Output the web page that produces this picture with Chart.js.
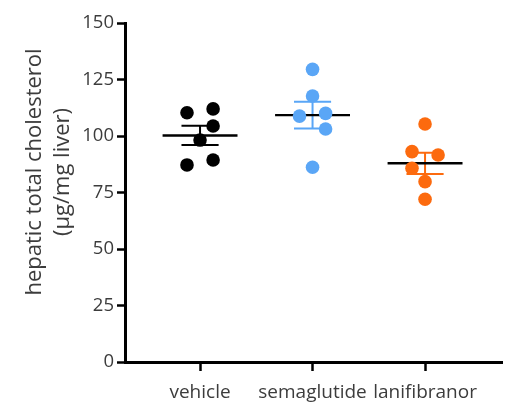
<!DOCTYPE html>
<html>
<head>
<meta charset="utf-8">
<script src="https://cdn.jsdelivr.net/npm/chart.js@4.4.1/dist/chart.umd.min.js"></script>
<style>
  html, body { margin: 0; padding: 0; background: #ffffff; }
  #wrap { width: 510px; height: 405px; }
</style>
</head>
<body>
<div id="wrap"><canvas id="c" width="510" height="405"></canvas></div>
<script>
// Hepatic total cholesterol per animal, µg/mg liver
const groups = ['vehicle', 'semaglutide', 'lanifibranor'];
const vehicle = [110.3, 112.0, 104.4, 98.2, 87.2, 89.4];
const semaglutide = [129.5, 117.7, 108.8, 110.0, 103.1, 86.2];
const lanifibranor = [105.3, 93.1, 91.6, 85.7, 79.8, 72.0];
// side of the column each animal is placed on (-1 left, 0 centre, 1 right)
const laneVehicle = [-1, 1, 1, 0, -1, 1];
const laneSemaglutide = [0, 0, -1, 1, 1, 0];
const laneLanifibranor = [0, -1, 1, -1, 0, 0];
const yTicks = [0, 25, 50, 75, 100, 125, 150];
const yTitleLines = ['hepatic total cholesterol', '(µg/mg liver)'];

const colors = ['#000000', '#5aa6f6', '#fc6a0e'];
const textColor = '#3c3c3c';
const fontFamily = '"Open Sans", "Noto Sans", sans-serif';

const series = [vehicle, semaglutide, lanifibranor];
const lanes = [laneVehicle, laneSemaglutide, laneLanifibranor];
const laneStep = 0.116;   // horizontal spread between dot lanes (x units)
const meanHalf = 0.333;   // half length of the mean bar
const capHalf = 0.165;    // half length of the SEM caps

function mean(a) { return a.reduce((s, v) => s + v, 0) / a.length; }
function sem(a) {
  const m = mean(a);
  const sd = Math.sqrt(a.reduce((s, v) => s + (v - m) * (v - m), 0) / (a.length - 1));
  return sd / Math.sqrt(a.length);
}

const datasets = [];

// individual animals (drawn on top)
series.forEach((vals, g) => {
  datasets.push({
    type: 'scatter',
    data: vals.map((v, i) => ({ x: g + lanes[g][i] * laneStep, y: v })),
    backgroundColor: colors[g],
    borderWidth: 0,
    pointRadius: 6.8,
    order: 0
  });
});

// group means
const meanData = [];
series.forEach((vals, g) => {
  const m = mean(vals);
  meanData.push({ x: g - meanHalf, y: m }, { x: g + meanHalf, y: m }, { x: g + 0.5, y: null });
});
datasets.push({
  type: 'line',
  data: meanData,
  borderColor: '#000000',
  borderWidth: 2.4,
  pointRadius: 0,
  spanGaps: false,
  order: 1
});

// SEM whiskers
series.forEach((vals, g) => {
  const m = mean(vals), s = sem(vals);
  datasets.push({
    type: 'line',
    data: [
      { x: g - capHalf, y: m + s }, { x: g + capHalf, y: m + s }, { x: g, y: null },
      { x: g, y: m - s }, { x: g, y: m + s }, { x: g + 0.01, y: null },
      { x: g - capHalf, y: m - s }, { x: g + capHalf, y: m - s }
    ],
    borderColor: colors[g],
    borderWidth: 2,
    pointRadius: 0,
    spanGaps: false,
    order: 2
  });
});

// two-line rotated y-axis title
const yTitlePlugin = {
  id: 'yTitle',
  afterDraw(chart) {
    const ctx = chart.ctx;
    ctx.save();
    ctx.fillStyle = textColor;
    ctx.font = '22px ' + fontFamily;
    ctx.textAlign = 'center';
    ctx.textBaseline = 'middle';
    yTitleLines.forEach((line, i) => {
      ctx.save();
      ctx.translate(35 + i * 28, 172);
      ctx.rotate(-Math.PI / 2);
      ctx.fillText(line, 0, 0);
      ctx.restore();
    });
    ctx.restore();
  }
};

new Chart(document.getElementById('c'), {
  type: 'scatter',
  data: { datasets },
  plugins: [yTitlePlugin],
  options: {
    responsive: false,
    devicePixelRatio: 1,
    animation: false,
    events: [],
    layout: { padding: { top: 23, right: 8, bottom: 0, left: 0 } },
    plugins: { legend: { display: false }, tooltip: { enabled: false } },
    scales: {
      x: {
        type: 'linear',
        min: -0.667,
        max: 2.684,
        afterBuildTicks: (scale) => { scale.ticks = groups.map((_, i) => ({ value: i })); },
        afterFit: (scale) => { scale.height = 43; },
        border: { display: true, color: '#000000', width: 3 },
        grid: { drawOnChartArea: false, drawTicks: true, tickLength: 9, tickWidth: 2.5, tickColor: '#000000' },
        ticks: {
          autoSkip: false,
          maxRotation: 0,
          padding: 10,
          color: textColor,
          font: { family: fontFamily, size: 19 },
          callback: (v) => groups[v]
        }
      },
      y: {
        type: 'linear',
        min: 0,
        max: 150,
        afterBuildTicks: (scale) => { scale.ticks = yTicks.map(v => ({ value: v })); },
        afterFit: (scale) => { scale.width = 125; },
        border: { display: true, color: '#000000', width: 3 },
        grid: { drawOnChartArea: false, drawTicks: true, tickLength: 8, tickWidth: 2.5, tickColor: '#000000' },
        ticks: {
          padding: 3,
          color: textColor,
          font: { family: fontFamily, size: 18.5 }
        }
      }
    }
  }
});
</script>
</body>
</html>
